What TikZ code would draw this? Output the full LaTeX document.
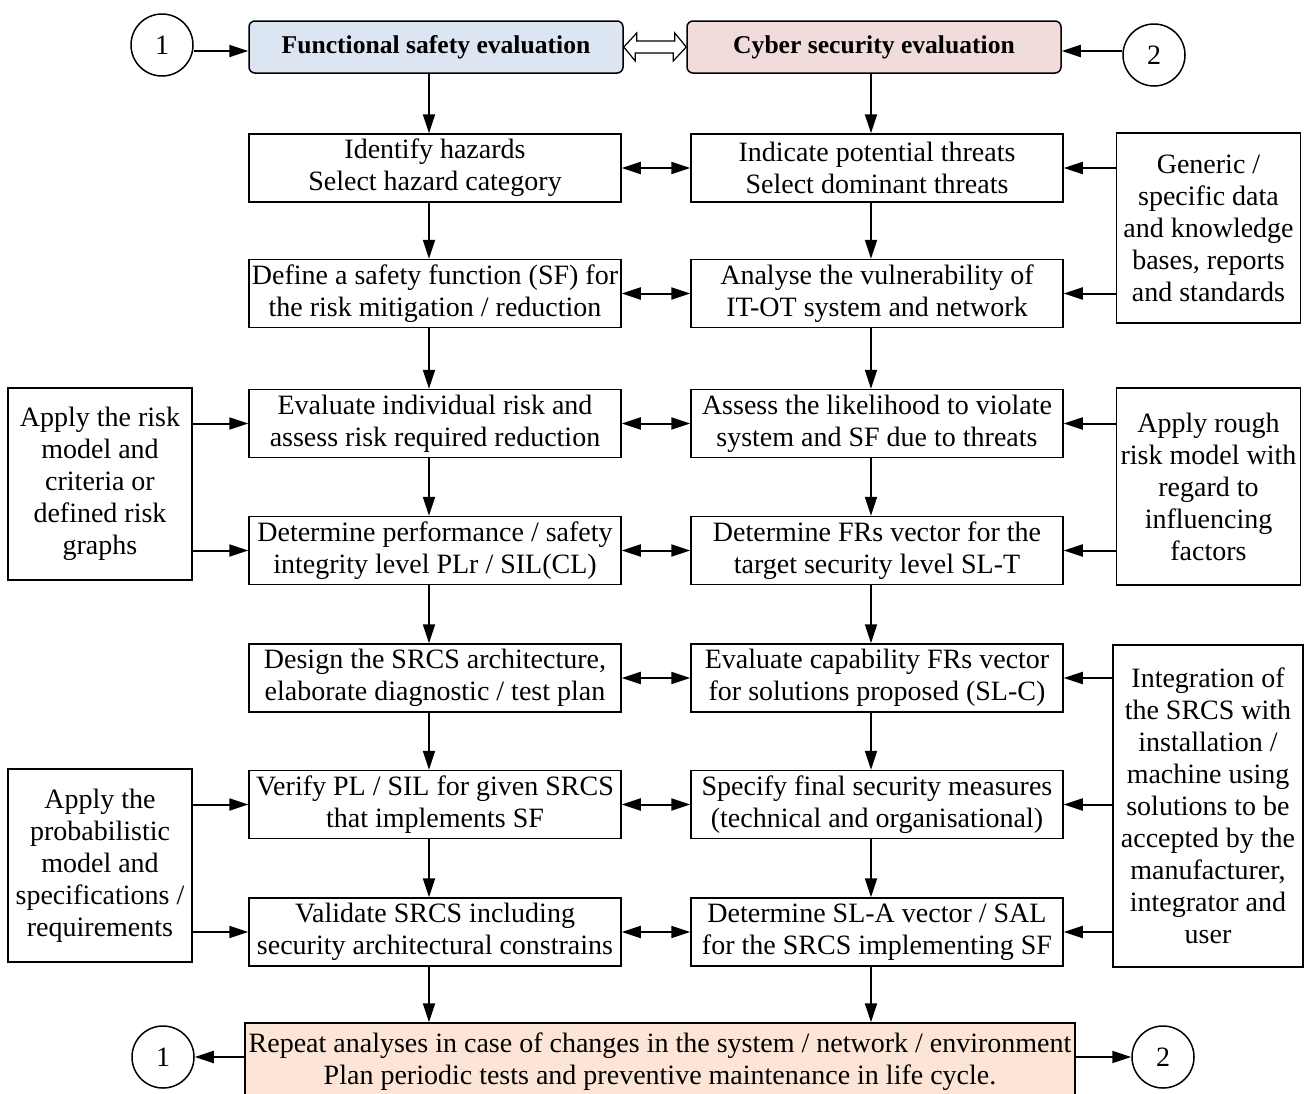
\documentclass[tikz,border=0pt]{standalone}
\usepackage{fontspec}
\setmainfont{Liberation Serif}
\usetikzlibrary{arrows.meta}
\definecolor{safetyblue}{HTML}{DCE6F2}
\definecolor{cyberpink}{HTML}{F2DCDB}
\definecolor{repeatpeach}{HTML}{FCE4D6}
\begin{document}
\begin{tikzpicture}[x=0.5pt,y=-0.5pt,
		txt/.style={font=\fontsize{14}{16}\selectfont, align=center, inner sep=0pt},
		stepbox/.style={txt, draw, line width=0.75pt, minimum width=186pt, minimum height=34pt},
		sidebox/.style={txt, draw, line width=0.75pt, minimum width=92pt},
		head/.style={txt, draw, line width=0.75pt, rounded corners=3pt, minimum width=187pt, minimum height=26pt, font=\fontsize{12.8}{16}\selectfont\bfseries},
		loop/.style={txt, draw, circle, line width=0.75pt, minimum size=31pt},
		flow/.style={line width=1pt, -{Triangle[length=9.5pt,width=6pt]}},
		both/.style={line width=1pt, {Triangle[length=9.5pt,width=6pt]}-{Triangle[length=9.5pt,width=6pt]}},
		down/.style={xshift=-3pt}]
		\useasboundingbox (0,0) rectangle (1307,1093);
		
		% headers
		\node[head, fill=safetyblue] (fs) at (436,47) {Functional safety evaluation};
		\node[head, fill=cyberpink] (cs) at (874,47) {Cyber security evaluation};
		\node[loop] (c1) at (162,45) {1};
		\node[loop] (c2) at (1154,55) {2};
		\draw[flow] (c1.east |- 0,51) -- (fs.west |- 0,51);
		\draw[flow] (c2.west |- 0,51) -- (cs.east |- 0,51);
		% hollow double arrow between the headers
		\draw[line width=0.6pt, fill=white] (fs.east) -- ++(13,-14) -- ++(0,8) -- ++(38,0) -- ++(0,-8) -- (cs.west)
			-- ++(-13,14) -- ++(0,-8) -- ++(-38,0) -- ++(0,8) -- cycle;
		
		% functional safety column
		\node[stepbox] (l1) at (435,168) {Identify hazards\\Select hazard category};
		\node[stepbox] (l2) at (435,293.5) {Define a safety function (SF) for\\the risk mitigation / reduction};
		\node[stepbox] (l3) at (435,423.5) {Evaluate individual risk and\\assess risk required reduction};
		\node[stepbox] (l4) at (435,550.5) {Determine performance / safety\\integrity level PLr / SIL(CL)};
		\node[stepbox] (l5) at (435,678) {Design the SRCS architecture,\\elaborate diagnostic / test plan};
		\node[stepbox] (l6) at (435,804.5) {Verify PL / SIL for given SRCS\\that implements SF};
		\node[stepbox] (l7) at (435,932) {Validate SRCS including\\security architectural constrains};
		
		% cyber security column
		\node[stepbox] (r1) at (877,168) {Indicate potential threats\\Select dominant threats};
		\node[stepbox] (r2) at (877,293.5) {Analyse the vulnerability of\\IT-OT system and network};
		\node[stepbox] (r3) at (877,423.5) {Assess the likelihood to violate\\system and SF due to threats};
		\node[stepbox] (r4) at (877,550.5) {Determine FRs vector for the\\target security level SL-T};
		\node[stepbox] (r5) at (877,678) {Evaluate capability FRs vector\\for solutions proposed (SL-C)};
		\node[stepbox] (r6) at (877,804.5) {Specify final security measures\\(technical and organisational)};
		\node[stepbox] (r7) at (877,932) {Determine SL-A vector / SAL\\for the SRCS implementing SF};
		
		% side inputs
		\node[sidebox, minimum height=95pt] (data) at (1208.5,228) {Generic /\\specific data\\and knowledge\\bases, reports\\and standards};
		\node[sidebox, minimum height=96pt] (graphs) at (100,484) {Apply the risk\\model and\\criteria or\\defined risk\\graphs};
		\node[sidebox, minimum height=98.5pt] (rough) at (1208.5,486.5) {Apply rough\\risk model with\\regard to\\influencing\\factors};
		\node[sidebox, minimum height=96.5pt] (prob) at (100,865.5) {Apply the\\probabilistic\\model and\\specifications /\\requirements};
		\node[sidebox, minimum width=95pt, minimum height=161pt] (integ) at (1208,806) {Integration of\\the SRCS with\\installation /\\machine using\\solutions to be\\accepted by the\\manufacturer,\\integrator and\\user};
		
		% repeat
		\node[txt, draw, line width=0.75pt, fill=repeatpeach, minimum width=415pt, minimum height=38.5pt] (rep) at (660,1061.5) {Repeat analyses in case of changes in the system / network / environment\\Plan periodic tests and preventive maintenance in life cycle.};
		\node[loop] (b1) at (163,1057) {1};
		\node[loop] (b2) at (1163,1057) {2};
		
		\draw[flow] ([down]l1.north |- fs.south) -- ([down]l1.north);
		\draw[flow] ([down]l1.south) -- ([down]l2.north);
		\draw[flow] ([down]l2.south) -- ([down]l3.north);
		\draw[flow] ([down]l3.south) -- ([down]l4.north);
		\draw[flow] ([down]l4.south) -- ([down]l5.north);
		\draw[flow] ([down]l5.south) -- ([down]l6.north);
		\draw[flow] ([down]l6.south) -- ([down]l7.north);
		\draw[flow] ([down]l7.south) -- ([down]l7.south |- rep.north);
		
		\draw[flow] ([down]r1.north |- cs.south) -- ([down]r1.north);
		\draw[flow] ([down]r1.south) -- ([down]r2.north);
		\draw[flow] ([down]r2.south) -- ([down]r3.north);
		\draw[flow] ([down]r3.south) -- ([down]r4.north);
		\draw[flow] ([down]r4.south) -- ([down]r5.north);
		\draw[flow] ([down]r5.south) -- ([down]r6.north);
		\draw[flow] ([down]r6.south) -- ([down]r7.north);
		\draw[flow] ([down]r7.south) -- ([down]r7.south |- rep.north);
		
		\draw[both] (l1) -- (r1);
		\draw[both] (l2) -- (r2);
		\draw[both] (l3) -- (r3);
		\draw[both] (l4) -- (r4);
		\draw[both] (l5) -- (r5);
		\draw[both] (l6) -- (r6);
		\draw[both] (l7) -- (r7);
		
		\draw[flow] (data.west |- r1) -- (r1);
		\draw[flow] (data.west |- r2) -- (r2);
		\draw[flow] (graphs.east |- l3) -- (l3);
		\draw[flow] (graphs.east |- l4) -- (l4);
		\draw[flow] (rough.west |- r3) -- (r3);
		\draw[flow] (rough.west |- r4) -- (r4);
		\draw[flow] (prob.east |- l6) -- (l6);
		\draw[flow] (prob.east |- l7) -- (l7);
		\draw[flow] (integ.west |- r5) -- (r5);
		\draw[flow] (integ.west |- r6) -- (r6);
		\draw[flow] (integ.west |- r7) -- (r7);
		
		\draw[flow] (rep.west |- b1) -- (b1);
		\draw[flow] (rep.east |- b2) -- (b2);
	\end{tikzpicture}
\end{document}
